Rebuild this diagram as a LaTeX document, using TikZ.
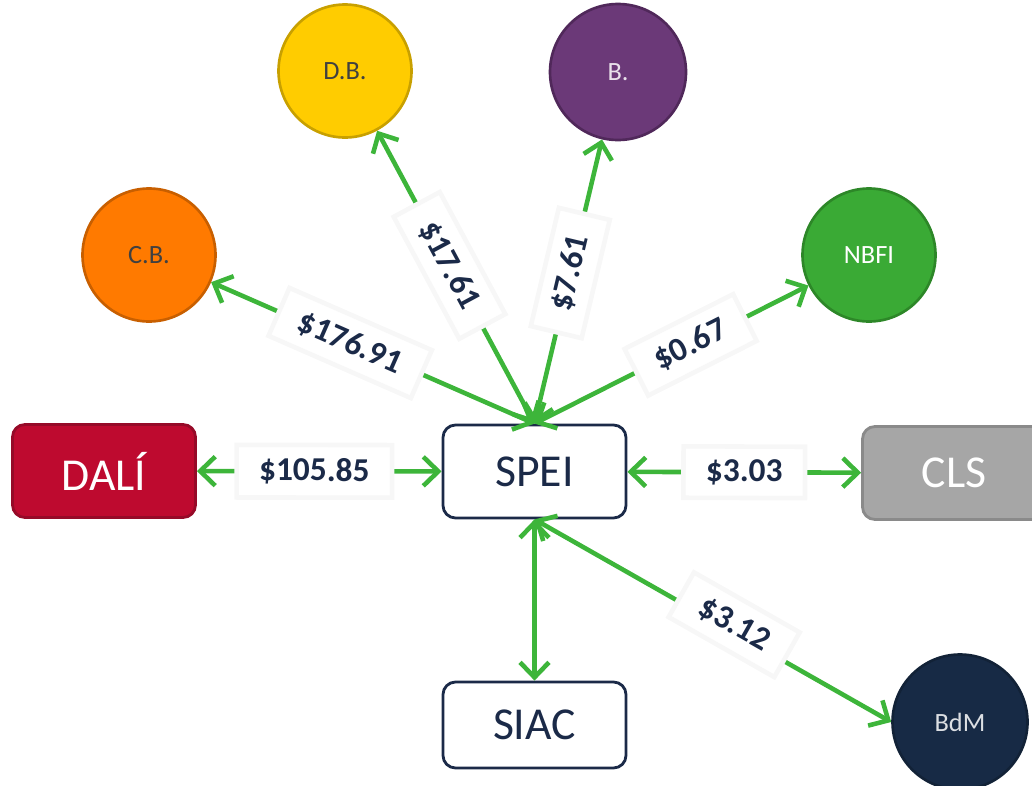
\documentclass[tikz,border=0pt]{standalone}
\usepackage{fontspec}
\setmainfont{Carlito}
\usepackage{xcolor}
\usepackage{tikz}
\usetikzlibrary{arrows.meta,positioning,shapes.geometric}

\definecolor{flowgreen}{RGB}{61,181,58}
\definecolor{navy}{RGB}{27,42,72}
\definecolor{dalired}{RGB}{190,10,47}
\definecolor{dalidark}{RGB}{150,10,40}
\definecolor{clsgray}{RGB}{166,166,166}
\definecolor{clsdark}{RGB}{138,138,138}
\definecolor{dbyellow}{RGB}{255,204,0}
\definecolor{dbdark}{RGB}{200,160,0}
\definecolor{bpurple}{RGB}{107,57,120}
\definecolor{bdark}{RGB}{80,40,90}
\definecolor{cborange}{RGB}{255,122,0}
\definecolor{cbdark}{RGB}{200,95,0}
\definecolor{nbfigreen}{RGB}{58,170,53}
\definecolor{nbfidark}{RGB}{45,135,40}
\definecolor{bdmnavy}{RGB}{23,42,69}

\begin{document}
\begin{tikzpicture}[
  sysbox/.style={rectangle, rounded corners=2.5mm, line width=1.6pt, minimum width=3.66cm, minimum height=1.86cm, font=\fontsize{26}{30}\selectfont},
  inst/.style={circle, line width=1.5pt, minimum size=2.66cm, font=\fontsize{15}{18}\selectfont},
  flow/.style={draw=flowgreen, line width=2.6pt, >={Straight Barb[length=3mm,width=5.8mm]}, <->},
  amt/.style={rectangle, fill=white, draw=gray!6, sloped, text=navy, font=\bfseries\fontsize{19}{22}\selectfont, inner xsep=0.45cm, inner ysep=0.26cm}
]
  \clip (0,0) rectangle (20.64,-15.70);

  \node[sysbox, draw=navy, fill=white, text=navy] (spei) at (10.69,-9.43) {SPEI};
  \node[sysbox, draw=dalidark, fill=dalired, text=white] (dali) at (2.08,-9.42) {DALÍ};
  \node[sysbox, draw=clsdark, fill=clsgray, text=white] (cls) at (19.08,-9.46) {CLS};
  \node[sysbox, draw=navy, fill=white, text=navy, minimum height=1.72cm] (siac) at (10.69,-14.50) {SIAC};

  \node[inst, draw=cbdark, fill=cborange, text=black!75] (cb) at (2.98,-5.10) {C.B.};
  \node[inst, draw=dbdark, fill=dbyellow, text=black!75] (db) at (6.90,-1.42) {D.B.};
  \node[inst, draw=bdark, fill=bpurple, text=white!85!bpurple, minimum size=2.72cm] (b) at (12.36,-1.44) {B.};
  \node[inst, draw=nbfidark, fill=nbfigreen, text=white] (nbfi) at (17.38,-5.10) {NBFI};
  \node[inst, draw=bdmnavy!80!black, fill=bdmnavy, text=white!85!bdmnavy, minimum size=2.70cm] (bdm) at (19.20,-14.44) {BdM};

  \draw[flow] (spei.north) -- node[amt, pos=0.57] {\$176.91} (cb);
  \draw[flow] (spei.north) -- node[amt, pos=0.54] {\$17.61} (db);
  \draw[flow] (spei.north) -- node[amt, pos=0.53] {\$7.61} (b);
  \draw[flow] (spei.north) -- node[amt, pos=0.57] {\$0.67} (nbfi);
  \draw[flow] (dali) -- node[amt, pos=0.48] {\$105.85} (spei);
  \draw[flow] (spei) -- node[amt, pos=0.5] {\$3.03} (cls);
  \draw[flow] (spei) -- (siac);
  \draw[flow] (spei.south) -- node[amt, pos=0.55, yshift=4pt] {\$3.12} (bdm.west);
\end{tikzpicture}
\end{document}
